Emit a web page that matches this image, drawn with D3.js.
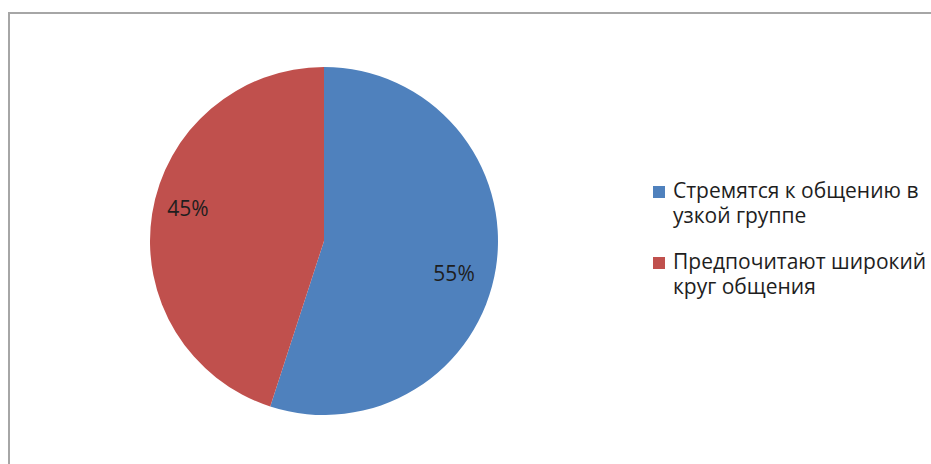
<!DOCTYPE html>
<html>
<head>
<meta charset="utf-8">
<script src="https://cdn.jsdelivr.net/npm/d3@7"></script>
<style>
  body { margin: 0; background: #fff; }
  text { font-family: "Open Sans", "Liberation Sans", sans-serif; }
</style>
</head>
<body>
<div id="chart"></div>
<script>
// data
const categories = ["Стремятся к общению в узкой группе", "Предпочитают широкий круг общения"];
const legendLines = [["Стремятся к общению в", "узкой группе"], ["Предпочитают широкий", "круг общения"]];
const values = [55, 45];
const labels = ["55%", "45%"];
const colors = ["#4f81bd", "#c0504d"];

const width = 931, height = 464;

const svg = d3.select("#chart")
  .append("svg")
    .attr("width", width)
    .attr("height", height);

// chart frame
svg.append("rect")
  .attr("x", 9).attr("y", 13)
  .attr("width", width + 10).attr("height", height + 10)
  .attr("fill", "none")
  .attr("stroke", "#a6a6a6")
  .attr("stroke-width", 2);

const cx = 324, cy = 241, radius = 174;

const pie = d3.pie().sort(null).value(d => d);
const arcs = pie(values);
const arc = d3.arc().innerRadius(0).outerRadius(radius);

const g = svg.append("g")
  .attr("transform", `translate(${cx}, ${cy})`);

g.selectAll("path")
  .data(arcs)
  .join("path")
    .attr("d", arc)
    .attr("fill", (d, i) => colors[i]);

// data labels (best-fit nudges like the original)
const labelArc = d3.arc().innerRadius(radius * 0.78).outerRadius(radius * 0.78);
const nudge = [[-4, 11], [-2, -11]];
g.selectAll("text.lbl")
  .data(arcs)
  .join("text")
    .attr("class", "lbl")
    .attr("transform", (d, i) => {
      const c = labelArc.centroid(d);
      return `translate(${c[0] + nudge[i][0]}, ${c[1] + nudge[i][1]})`;
    })
    .attr("text-anchor", "middle")
    .attr("dy", "0.35em")
    .style("font-size", "21px")
    .attr("fill", "#1e1e1e")
    .text((d, i) => labels[i]);

// legend
const legend = svg.append("g")
  .attr("transform", "translate(653, 0)");

const rows = legend.selectAll("g")
  .data(categories)
  .join("g")
    .attr("transform", (d, i) => `translate(0, ${186 + i * 71})`);

rows.append("rect")
  .attr("width", 12).attr("height", 12)
  .attr("fill", (d, i) => colors[i]);

rows.append("text")
  .attr("y", 11.5)
  .style("font-size", "21px")
  .attr("fill", "#1e1e1e")
  .selectAll("tspan")
  .data((d, i) => legendLines[i])
  .join("tspan")
    .attr("x", 20)
    .attr("dy", (d, j) => j === 0 ? 0 : 25)
    .text(d => d);
</script>
</body>
</html>
